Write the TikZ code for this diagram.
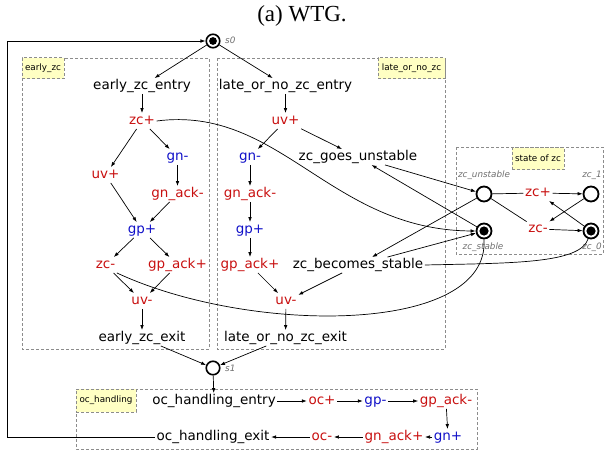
\documentclass[tikz,border=0pt]{standalone}
\usepackage{fontspec}
\setmainfont{DejaVu Sans}
\newfontfamily\titlefont{Liberation Serif}
\usetikzlibrary{arrows.meta}
\definecolor{evr}{RGB}{200,16,16}
\definecolor{evb}{RGB}{16,16,200}
\definecolor{lgray}{RGB}{110,110,110}
\definecolor{bgray}{RGB}{140,140,140}
\definecolor{tagy}{RGB}{255,255,195}
\begin{document}
\begin{tikzpicture}[x=1pt,y=-1pt,
 ev/.style={font=\fontsize{13.5}{15}\selectfont, inner sep=1.5pt, text height=9.5pt, text depth=3pt},
 er/.style={ev,text=evr},
 eb/.style={ev,text=evb},
 lab/.style={font=\fontsize{8.8}{10}\selectfont\itshape, text=lgray, inner sep=0pt},
 tag/.style={draw=bgray, line width=0.6pt, dash pattern=on 3pt off 2pt, fill=tagy, font=\fontsize{8.8}{10}\selectfont, inner sep=0pt},
 grp/.style={draw=bgray, line width=0.6pt, dash pattern=on 3pt off 2pt},
 arr/.style={-{Latex[length=5pt,width=3.6pt]}, line width=0.7pt},
 ln/.style={line width=0.7pt},
 st/.style={circle, draw, line width=1.8pt, minimum size=15pt, inner sep=0pt},
 stin/.style={st, path picture={\fill (path picture bounding box.center) circle (4.6pt);}},
 sz/.style={circle, draw, line width=1.6pt, minimum size=13.5pt, inner sep=0pt},
 szin/.style={sz, path picture={\fill (path picture bounding box.center) circle (3.9pt);}},
]
\useasboundingbox (0,0) rectangle (605,453);

\node[font=\titlefont\fontsize{23}{26}\selectfont, inner sep=0pt] (title) at (302,16) {(a) WTG.};

% groups
\draw[grp] (22,58) rectangle (209,349);
\draw[grp] (217,58) rectangle (445,349);
\draw[grp] (456,147) rectangle (603,254);
\draw[grp] (76,389) rectangle (477,449);
\node[tag, minimum width=42pt, minimum height=21pt] (tearly) at (43,68) {early\_zc};
\node[tag, minimum width=67pt, minimum height=21pt] (tlate) at (411.5,68) {late\_or\_no\_zc};
\node[tag, minimum width=52pt, minimum height=22pt] (tstate) at (538,158.5) {state of zc};
\node[tag, minimum width=60pt, minimum height=23pt] (toc) at (106,400.5) {oc\_handling};

% states
\node[szin] (s0) at (213,41) {};
\node[lab, anchor=west] (ls0) at (225,40) {s0};
\node[sz] (s1) at (213,368) {};
\node[lab, anchor=west] (ls1) at (225,368) {s1};

% early_zc
\node[ev] (eentry) at (142,86) {early\_zc\_entry};
\node[er] (ezcp) at (142,121) {zc+};
\node[eb] (egnm) at (177.5,157) {gn-};
\node[er] (euvp) at (105.5,175) {uv+};
\node[er] (egnack) at (177.5,194) {gn\_ack-};
\node[eb] (egpp) at (142,230) {gp+};
\node[er] (ezcm) at (105.5,265) {zc-};
\node[er] (egpack) at (177.5,265) {gp\_ack+};
\node[er] (euvm) at (142,301) {uv-};
\node[ev] (eexit) at (142,338) {early\_zc\_exit};

% late_or_no_zc
\node[ev] (lentry) at (285.5,86) {late\_or\_no\_zc\_entry};
\node[er] (luvp) at (285.5,121) {uv+};
\node[eb] (lgnm) at (250,157) {gn-};
\node[ev] (zgu) at (358,157) {zc\_goes\_unstable};
\node[er] (lgnack) at (250,194) {gn\_ack-};
\node[eb] (lgpp) at (250,230) {gp+};
\node[er] (lgpack) at (250,265) {gp\_ack+};
\node[ev] (zbs) at (358,265) {zc\_becomes\_stable};
\node[er] (luvm) at (286,301) {uv-};
\node[ev] (lexit) at (285.5,338) {late\_or\_no\_zc\_exit};

% state of zc
\node[st] (zcu) at (484,194) {};
\node[stin] (zcs) at (484,231) {};
\node[st] (zc1) at (591,194) {};
\node[stin] (zc0) at (591,231) {};
\node[er] (szp) at (538,193) {zc+};
\node[er] (szm) at (538,229) {zc-};
\node[lab] (lzcu) at (484,175) {zc\_unstable};
\node[lab] (lzcs) at (483,247) {zc\_stable};
\node[lab] (lzc1) at (592,175) {zc\_1};
\node[lab] (lzc0) at (592,247) {zc\_0};

% oc_handling
\node[ev] (ocentry) at (214,401) {oc\_handling\_entry};
\node[er] (ocp) at (322,401) {oc+};
\node[eb] (gpm) at (375.5,401) {gp-};
\node[er] (gpackm) at (446,401) {gp\_ack-};
\node[eb] (gnp) at (448,437) {gn+};
\node[er] (gnackp) at (394,437) {gn\_ack+};
\node[er] (ocm) at (322,437) {oc-};
\node[ev] (ocexit) at (213,437) {oc\_handling\_exit};
\coordinate (loop) at (7,437);

% edges
\draw[arr] (s0) -- (eentry);
\draw[arr] (s0) -- (lentry);
\draw[arr] (eentry) -- (ezcp);
\draw[arr] (ezcp) -- (euvp);
\draw[arr] (ezcp) -- (egnm);
\draw[arr] (egnm) -- (egnack);
\draw[arr] (euvp) -- (egpp);
\draw[arr] (egnack) -- (egpp);
\draw[arr] (egpp) -- (ezcm);
\draw[arr] (egpp) -- (egpack);
\draw[arr] (ezcm) -- (euvm);
\draw[arr] (egpack) -- (euvm);
\draw[arr] (euvm) -- (eexit);
\draw[arr] (eexit) -- (s1);

\draw[arr] (lentry) -- (luvp);
\draw[arr] (luvp) -- (lgnm);
\draw[arr] (luvp) -- (zgu);
\draw[arr] (lgnm) -- (lgnack);
\draw[arr] (lgnack) -- (lgpp);
\draw[arr] (lgpp) -- (lgpack);
\draw[arr] (lgpack) -- (luvm);
\draw[arr] (zbs) -- (luvm);
\draw[arr] (luvm) -- (lexit);
\draw[arr] (lexit) -- (s1);

\draw[arr] (zgu) -- (zcu);
\draw[arr] (zcs) -- (zgu);
\draw[arr] (zcu) -- (zbs);
\draw[arr] (zbs) -- (zcs);
\draw[ln] (zbs.east) .. controls (510,263) and (580,264) .. (zc0.250);
\draw[arr] (ezcp.east) .. controls (280,105) and (330,230) .. (zcs.west);
\draw[ln] (ezcm.south east) .. controls (250,335) and (490,335) .. (zcs.south);

\draw[ln] (zcu) -- (szp);
\draw[arr] (szp) -- (zc1);
\draw[ln] (zcu) -- (szm);
\draw[arr] (szm) -- (zc0);
\draw[arr] (zc1) -- (szm);
\draw[arr] (zc0) -- (szp);

\draw[arr] (s1) -- (ocentry);
\draw[arr] (ocentry) -- (ocp);
\draw[arr] (ocp) -- (gpm);
\draw[arr] (gpm) -- (gpackm);
\draw[arr] (gpackm) -- (gnp);
\draw[arr] (gnp) -- (gnackp);
\draw[arr] (gnackp) -- (ocm);
\draw[arr] (ocm) -- (ocexit);
\draw[arr] (ocexit.west) -- (loop) |- (s0);
\end{tikzpicture}
\end{document}
